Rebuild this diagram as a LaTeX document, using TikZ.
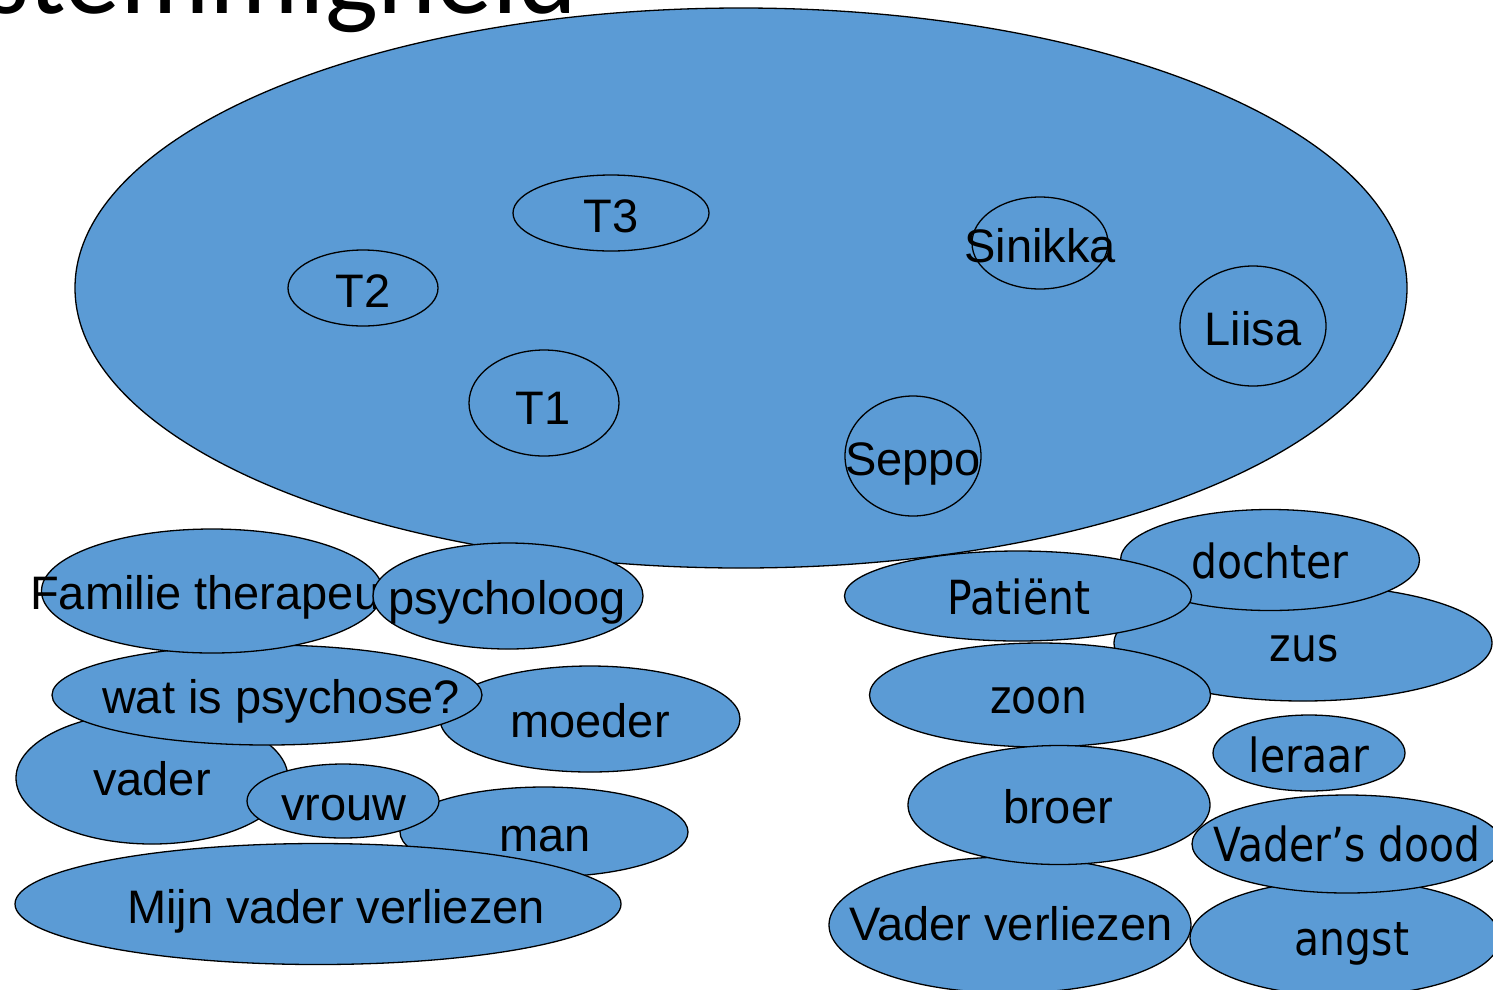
\documentclass[tikz,border=0pt]{standalone}
\usepackage{fontspec}
\setmainfont{Liberation Sans}
\newfontfamily\tahfont[FakeStretch=0.87]{DejaVu Sans}
\newfontfamily\titlefont{Carlito}
\usetikzlibrary{shapes.geometric}
\definecolor{blobblue}{RGB}{91,155,213}
\tikzset{
  blob/.style={ellipse, draw=black, fill=blobblue, line width=1.3pt, inner sep=0pt},
  lbl/.style={anchor=base, inner sep=0pt, font=\fontsize{47}{56}\selectfont},
  tlbl/.style={anchor=base, inner sep=0pt, font=\tahfont\fontsize{47}{56}\selectfont},
}
\begin{document}
\begin{tikzpicture}[x=1pt,y=-1pt]
\path[use as bounding box] (0,0) rectangle (1493,989);
\clip (0,0) rectangle (1493,989);
% title
\node[anchor=base east, inner sep=0pt, font=\titlefont\fontsize{112}{130}\selectfont] (title) at (577,13) {Meerstemmigheid};
% big ellipse
\node[blob, minimum width=1332pt, minimum height=560pt] (big) at (741,288) {};
\node[blob, minimum width=196pt, minimum height=76pt] (e3) at (611,213) {};
\node[lbl] (t3) at (611,232) {T3};
\node[blob, minimum width=150pt, minimum height=76pt] (e2) at (363,288) {};
\node[lbl] (t2) at (363,307) {T2};
\node[blob, minimum width=150pt, minimum height=106pt] (e1) at (544,403) {};
\node[lbl] (t1) at (543,424) {T1};
\node[blob, minimum width=136pt, minimum height=92pt] (esi) at (1040,243) {};
\node[lbl] (tsi) at (1040,262) {Sinikka};
\node[blob, minimum width=146pt, minimum height=120pt] (eli) at (1253,326) {};
\node[lbl] (tli) at (1253,345) {Liisa};
\node[blob, minimum width=136pt, minimum height=120pt] (ese) at (913,456) {};
\node[lbl] (tse) at (913,475) {Seppo};
% left group
\node[blob, minimum width=300pt, minimum height=106pt] (emo) at (590,719) {};
\node[lbl] (tmo) at (590,737) {moeder};
\node[blob, minimum width=272pt, minimum height=132pt] (eva) at (152,778) {};
\node[lbl] (tva) at (152,795) {vader};
\node[blob, minimum width=288pt, minimum height=90pt] (ema) at (544,832) {};
\node[lbl] (tma) at (545,851) {man};
\node[blob, minimum width=430pt, minimum height=100pt] (ewa) at (267,695) {};
\node[lbl] (twa) at (281,713) {wat is psychose?};
\node[blob, minimum width=341pt, minimum height=124pt] (efa) at (212,591) {};
\node[lbl, anchor=base west] (tfa) at (30,609) {Familie therapeut};
\node[blob, minimum width=270pt, minimum height=106pt] (eps) at (508,596) {};
\node[lbl] (tps) at (507,614) {psycholoog};
\node[blob, minimum width=192pt, minimum height=74pt] (evr) at (343,801) {};
\node[lbl] (tvr) at (344,820) {vrouw};
\node[blob, minimum width=606pt, minimum height=121pt] (emi) at (318,904) {};
\node[lbl] (tmi) at (336,923) {Mijn vader verliezen};
% right group
\node[blob, minimum width=378pt, minimum height=116pt] (ezu) at (1303,643) {};
\node[tlbl] (tzu) at (1304,661) {zus};
\node[blob, minimum width=299pt, minimum height=101pt] (edo) at (1270,560) {};
\node[tlbl] (tdo) at (1270,578) {dochter};
\node[blob, minimum width=347pt, minimum height=90pt] (epa) at (1018,596) {};
\node[tlbl] (tpa) at (1019,614) {Patiënt};
\node[blob, minimum width=341pt, minimum height=104pt] (ezo) at (1040,695) {};
\node[tlbl] (tzo) at (1039,713) {zoon};
\node[blob, minimum width=362pt, minimum height=136pt] (evv) at (1010,925) {};
\node[lbl] (tvv) at (1011,940) {Vader verliezen};
\node[blob, minimum width=302pt, minimum height=119pt] (ebr) at (1059,805) {};
\node[lbl] (tbr) at (1058,823) {broer};
\node[blob, minimum width=192pt, minimum height=76pt] (ele) at (1309,753) {};
\node[tlbl] (tle) at (1309,772) {leraar};
\node[blob, minimum width=310pt, minimum height=116pt] (ean) at (1345,938) {};
\node[tlbl] (tan) at (1352,955) {angst};
\node[blob, minimum width=310pt, minimum height=98pt] (evd) at (1347,844) {};
\node[tlbl] (tvd) at (1347,861) {Vader’s dood};
\end{tikzpicture}
\end{document}
